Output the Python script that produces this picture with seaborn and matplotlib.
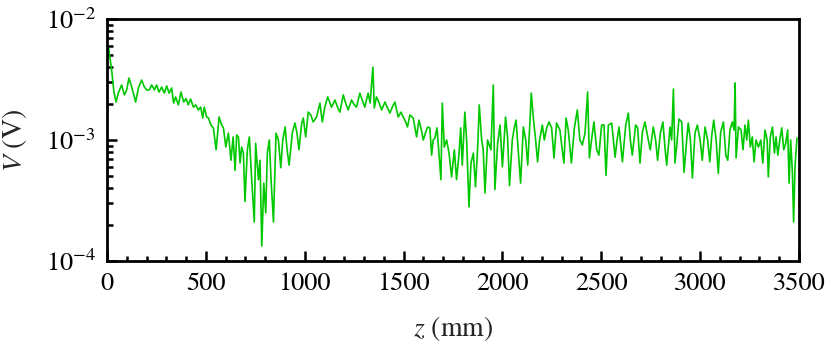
import numpy as np
import pandas as pd
import matplotlib
matplotlib.use("Agg")
import matplotlib.pyplot as plt
import matplotlib.ticker as mticker
import seaborn as sns

z_mm = [0, 8, 15, 25, 35, 46, 57, 74, 88, 100, 111, 125, 145, 159, 175, 189, 201, 213, 226, 240,
        251, 263, 277, 290, 302, 314, 327, 337, 347, 361, 374, 388, 400, 411, 423, 437, 449, 462, 474, 484,
        492, 504, 513, 526, 538, 552, 567, 580, 589, 601, 614, 627, 638, 648, 656, 665, 673, 681, 690, 698,
        710, 720, 732, 745, 752, 766, 774, 783, 793, 803, 811, 821, 830, 842, 855, 867, 879, 889, 901, 911,
        921, 938, 951, 961, 971, 985, 993, 1005, 1018, 1031, 1043, 1060, 1077, 1089, 1102, 1116, 1126, 1136, 1153, 1166,
        1178, 1195, 1207, 1220, 1237, 1251, 1262, 1279, 1291, 1304, 1321, 1331, 1345, 1352, 1363, 1375, 1389, 1406, 1419, 1431,
        1443, 1456, 1473, 1487, 1498, 1507, 1520, 1532, 1549, 1566, 1578, 1588, 1600, 1612, 1622, 1633, 1642, 1650, 1659, 1669,
        1681, 1689, 1696, 1706, 1718, 1730, 1743, 1757, 1768, 1780, 1789, 1797, 1810, 1819, 1831, 1841, 1853, 1864, 1875, 1883,
        1895, 1903, 1912, 1925, 1942, 1954, 1962, 1976, 1988, 2000, 2016, 2026, 2036, 2050, 2060, 2069, 2080, 2092, 2106, 2118,
        2128, 2139, 2146, 2156, 2168, 2178, 2188, 2202, 2212, 2224, 2236, 2249, 2261, 2274, 2291, 2301, 2311, 2322, 2333, 2349,
        2364, 2379, 2392, 2404, 2418, 2431, 2440, 2451, 2463, 2477, 2488, 2502, 2514, 2524, 2536, 2553, 2570, 2580, 2590, 2607,
        2624, 2637, 2647, 2657, 2674, 2684, 2696, 2708, 2721, 2738, 2748, 2763, 2775, 2785, 2799, 2812, 2822, 2831, 2848, 2856,
        2865, 2873, 2881, 2893, 2907, 2919, 2932, 2940, 2951, 2961, 2974, 2986, 3000, 3011, 3025, 3038, 3049, 3059, 3069, 3081,
        3092, 3104, 3118, 3130, 3140, 3151, 3163, 3172, 3177, 3182, 3194, 3207, 3217, 3227, 3236, 3244, 3254, 3264, 3273, 3283,
        3295, 3307, 3317, 3328, 3339, 3345, 3355, 3366, 3376, 3384, 3393, 3403, 3413, 3423, 3433, 3443, 3450, 3458, 3467, 3473,
        3480, 3490]
v_mv = [6.2, 5.8, 4.8, 3.6, 2.5, 2.06, 2.44, 2.85, 2.36, 2.6, 3.25, 2.74, 2.06, 2.69, 3.13, 2.74, 2.59, 2.59, 2.85, 2.59,
        2.85, 2.49, 2.74, 2.44, 2.8, 2.44, 2.69, 2.02, 2.27, 1.95, 2.49, 2.06, 2.2, 1.95, 2.18, 1.87, 1.95, 1.77, 1.87, 1.52,
        1.87, 1.55, 1.52, 1.33, 1.26, 0.83, 1.55, 1.33, 1.26, 0.875, 1.14, 0.68, 1.06, 0.56, 1.1, 1.06, 0.645, 0.875, 0.78, 0.31,
        0.83, 1.06, 0.47, 0.21, 0.94, 0.47, 0.68, 0.133, 0.44, 0.25, 0.78, 1.0, 0.47, 0.21, 1.14, 1.0, 0.59, 1.0, 1.28, 0.83,
        0.62, 1.16, 1.38, 1.14, 0.83, 1.38, 1.52, 1.06, 1.70, 1.61, 1.41, 1.55, 2.02, 1.41, 1.87, 2.27, 2.06, 1.87, 2.14, 1.87,
        1.70, 2.36, 2.02, 1.77, 2.14, 1.95, 1.87, 2.44, 2.14, 1.87, 2.44, 2.02, 4.0, 1.84, 2.27, 2.06, 1.77, 2.06, 1.84, 1.67,
        1.87, 2.06, 1.55, 1.70, 1.55, 1.46, 1.28, 1.61, 1.52, 1.06, 1.46, 1.26, 1.0, 1.16, 1.28, 1.26, 0.75, 1.0, 1.04, 1.26,
        0.71, 0.47, 2.02, 0.875, 1.0, 0.78, 0.495, 0.83, 0.47, 0.75, 1.26, 0.62, 1.70, 1.0, 0.28, 0.645, 0.78, 0.41, 0.875, 1.95,
        1.0, 0.83, 0.365, 1.0, 0.83, 2.85, 0.39, 0.94, 1.33, 0.60, 1.55, 1.06, 0.42, 1.0, 1.26, 1.46, 0.83, 0.44, 1.28, 1.0,
        0.62, 1.38, 2.44, 1.55, 1.0, 0.66, 1.0, 1.33, 1.0, 1.26, 1.41, 1.26, 0.71, 1.38, 1.21, 0.875, 0.645, 1.52, 1.21, 0.645,
        1.26, 1.77, 1.0, 0.91, 1.14, 2.49, 0.71, 1.0, 1.41, 0.83, 0.75, 1.33, 1.33, 0.51, 1.33, 1.38, 0.72, 1.0, 1.28, 0.66,
        1.33, 1.67, 1.0, 0.75, 1.33, 1.26, 0.645, 1.16, 1.41, 1.0, 0.83, 1.28, 1.0, 0.68, 1.14, 1.41, 0.875, 0.62, 1.28, 1.0,
        2.64, 0.645, 0.875, 1.49, 1.41, 0.54, 1.0, 1.38, 1.0, 0.485, 1.14, 1.33, 1.0, 0.68, 1.28, 1.0, 0.66, 1.1, 1.46, 1.0,
        0.53, 1.16, 1.41, 0.75, 0.68, 1.21, 1.41, 1.21, 2.96, 0.71, 1.28, 1.21, 0.83, 1.33, 1.0, 1.46, 0.875, 1.06, 0.66, 1.0,
        0.875, 1.0, 0.645, 1.21, 1.0, 0.495, 1.06, 1.28, 0.78, 1.06, 0.75, 1.0, 1.26, 0.83, 0.94, 1.21, 0.44, 1.0, 0.53, 0.21,
        0.60, 1.04]

df = pd.DataFrame({"z": z_mm, "V": np.array(v_mv) * 1e-3})

sns.set_theme(style="ticks")
plt.rcParams["font.family"] = ["STIXGeneral", "DejaVu Serif"]
plt.rcParams["mathtext.fontset"] = "stix"

fig = plt.figure(figsize=(8.3, 3.53), dpi=100)
ax = fig.add_axes([0.1289, 0.2606, 0.8337, 0.6856])

sns.lineplot(data=df, x="z", y="V", ax=ax, color="#00c800", linewidth=1.2,
             estimator=None, sort=False)

ax.set_yscale("log")
ax.set_xlim(0, 3500)
ax.set_ylim(1e-4, 1e-2)

ax.xaxis.set_major_locator(mticker.MultipleLocator(500))
ax.xaxis.set_minor_locator(mticker.MultipleLocator(100))
ax.yaxis.set_major_locator(mticker.LogLocator(base=10, numticks=5))
ax.yaxis.set_minor_locator(mticker.LogLocator(base=10, subs=np.arange(2, 10), numticks=20))
ax.yaxis.set_minor_formatter(mticker.NullFormatter())

ax.tick_params(axis="both", which="both", direction="in", top=False, right=False,
               labelsize=19, width=1.8, colors="black", pad=8)
ax.tick_params(axis="both", which="major", length=7.5)
ax.tick_params(axis="x", which="minor", length=3.5)
ax.tick_params(axis="y", which="minor", length=4.5)

for s in ax.spines.values():
    s.set_linewidth(2.0)
    s.set_color("black")

ax.set_xlabel("$z$ (mm)", fontsize=20)
ax.set_ylabel("$V$ (V)", fontsize=20)
ax.xaxis.set_label_coords(0.5, -0.22)
ax.yaxis.set_label_coords(-0.113, 0.5)

fig.savefig("out.png", dpi=100)
